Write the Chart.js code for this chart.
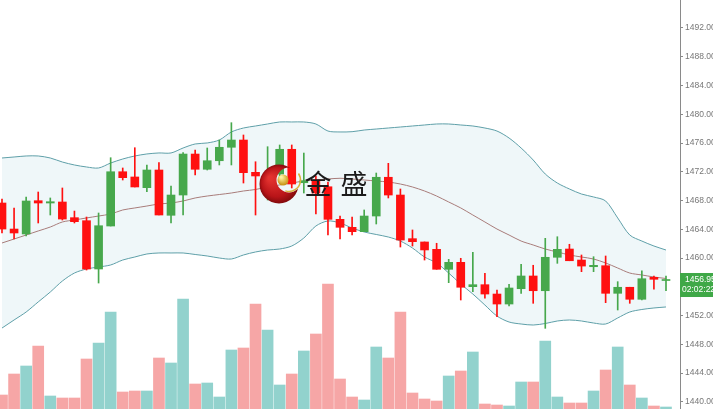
<!DOCTYPE html>
<html>
<head>
<meta charset="utf-8">
<script src="https://cdn.jsdelivr.net/npm/chart.js@4"></script>
<style>
  html, body { margin: 0; padding: 0; background: #fff; overflow: hidden; }
  canvas { display: block; }
</style>
</head>
<body>
<canvas id="myChart" width="713" height="409" style="width:713px;height:409px"></canvas>
<script>
// Bougies (prix)
const opens = [1467.66,1464.04,1463.35,1467.98,1467.66,1467.80,1465.62,1465.20,1458.48,1464.46,
  1472.01,1471.28,1469.79,1472.25,1465.95,1468.77,1474.47,1472.35,1473.54,1475.41,
  1476.42,1471.93,1469.47,1471.69,1475.13,1470.48,1470.86,1469.92,1465.39,1464.28,
  1463.67,1465.85,1471.24,1468.77,1462.70,1462.24,1461.22,1458.44,1459.41,1456.02,
  1456.30,1455.00,1453.61,1455.74,1457.51,1455.46,1460.11,1461.26,1459.73,1458.80,
  1458.94,1455.10,1455.94,1454.27,1457.32,1456.88];
const closes = [1464.04,1463.49,1467.94,1467.66,1467.84,1465.43,1465.06,1458.48,1464.50,1472.01,
  1471.18,1469.89,1472.25,1465.99,1468.77,1474.47,1472.35,1473.54,1475.41,1476.42,
  1471.88,1471.42,1471.14,1475.13,1470.30,1470.76,1469.05,1465.39,1464.28,1463.67,
  1465.85,1471.24,1468.77,1462.51,1462.28,1461.13,1458.44,1459.41,1455.94,1456.30,
  1455.00,1453.61,1455.84,1457.51,1455.46,1460.11,1461.22,1459.63,1458.89,1458.99,
  1455.10,1455.94,1454.27,1457.13,1457.05,1456.95];
const highs = [1468.22,1466.96,1468.50,1469.19,1468.36,1469.75,1466.54,1465.71,1466.27,1473.96,
  1472.53,1475.35,1472.95,1473.27,1470.03,1474.66,1475.03,1475.31,1476.42,1478.83,
  1477.12,1473.40,1475.49,1475.73,1475.73,1474.61,1471.42,1470.58,1465.85,1465.71,
  1466.69,1471.83,1473.18,1469.61,1463.91,1462.24,1462.06,1459.83,1459.97,1460.80,
  1457.88,1455.56,1456.35,1459.14,1459.00,1462.75,1462.97,1461.92,1460.43,1460.19,
  1460.29,1456.72,1455.94,1458.24,1457.51,1457.51];
const lows = [1463.49,1462.65,1463.07,1464.88,1465.99,1465.29,1464.88,1458.34,1456.53,1464.46,
  1470.86,1469.89,1469.23,1465.99,1464.88,1465.99,1471.56,1472.25,1472.95,1472.95,
  1470.44,1465.99,1468.08,1470.86,1469.75,1469.05,1466.13,1463.21,1462.65,1463.21,
  1463.67,1464.74,1468.36,1461.54,1461.68,1459.73,1458.44,1456.58,1454.17,1455.32,
  1454.41,1451.85,1453.34,1455.10,1453.71,1450.23,1459.27,1459.63,1458.11,1458.11,
  1453.80,1452.78,1453.71,1454.17,1455.66,1455.46];

// Bandes de Bollinger
const bandUpper = [1473.92,1474.06,1474.20,1474.20,1473.92,1473.36,1472.95,1472.67,1472.53,1473.22,
  1473.78,1474.20,1474.48,1474.62,1474.62,1475.31,1475.87,1476.01,1476.42,1477.54,
  1478.09,1478.37,1478.65,1478.93,1478.93,1478.93,1478.65,1477.67,1477.54,1477.58,
  1477.81,1477.95,1478.09,1478.23,1478.37,1478.51,1478.65,1478.65,1478.51,1478.37,
  1478.09,1477.67,1476.70,1475.31,1473.64,1471.69,1470.44,1469.61,1468.91,1468.50,
  1467.94,1465.58,1463.21,1462.37,1461.68,1461.12];
const bandMiddle = [1462.10,1462.65,1463.21,1463.77,1464.32,1465.02,1465.30,1465.58,1465.85,1466.13,
  1466.69,1466.97,1467.24,1467.52,1467.66,1467.94,1468.36,1468.63,1468.84,1469.05,
  1469.33,1469.54,1469.89,1470.17,1470.44,1470.72,1470.86,1471.00,1471.10,1471.00,
  1470.86,1470.72,1470.58,1470.30,1469.89,1469.33,1468.63,1467.80,1466.97,1465.99,
  1465.02,1464.04,1463.21,1462.37,1461.82,1461.26,1460.85,1460.43,1460.15,1459.87,
  1459.32,1458.62,1457.92,1457.65,1457.37,1457.16];
const bandLower = [1450.27,1451.39,1452.50,1453.90,1455.28,1456.81,1457.92,1458.48,1458.76,1459.04,
  1459.73,1460.15,1460.57,1460.71,1460.71,1460.71,1460.50,1460.29,1460.01,1459.87,
  1460.43,1460.85,1461.12,1461.26,1461.68,1462.79,1464.46,1465.16,1464.88,1464.18,
  1463.63,1463.28,1462.93,1462.37,1461.40,1460.15,1459.32,1457.92,1456.39,1455.00,
  1453.47,1451.94,1451.11,1450.83,1450.69,1450.90,1451.25,1451.39,1451.25,1450.97,
  1450.83,1451.67,1452.50,1452.85,1453.06,1453.20];

// Volumes (unités relatives)
const volumes = [14,35,43,63,13,11,11,50,66,97,17,18,18,51,46,110,25,26,12,59,
  61,105,79,24,35,58,75,125,30,12,9,62,51,97,16,10,8,33,38,57,
  5,4,3,27,27,68,12,6,6,18,39,62,24,11,3,2];

// Graduations de l'axe des prix
const priceTicks = [1440,1444,1448,1452,1456,1460,1464,1468,1472,1476,1480,1484,1488,1492];
const lastPrice = '1456.95';
const countdown = '02:02:22';

const UP = '#47a84c', DOWN = '#ff1010';
const VOL_UP = '#92d2cd', VOL_DOWN = '#f6a6a6';

const isUp = opens.map((o, i) => closes[i] >= o);
const xy = arr => arr.map((v, i) => ({ x: i, y: v }));

// Logo + étiquette du dernier prix
const overlayPlugin = {
  id: 'overlay',
  afterDatasetsDraw(chart) {
    const c = chart.ctx;
    c.save();
    // croissant rouge
    c.beginPath();
    c.arc(279, 184, 19.5, 0, Math.PI * 2);
    c.clip();
    const g = c.createRadialGradient(270, 178, 2, 279, 184, 20);
    g.addColorStop(0, '#e3322f');
    g.addColorStop(0.7, '#b81418');
    g.addColorStop(1, '#7e0a0c');
    c.beginPath();
    c.rect(250, 150, 60, 70);
    c.arc(289, 180, 12.5, 0, Math.PI * 2, true);
    c.fillStyle = g;
    c.fill('evenodd');
    c.restore();

    c.save();
    c.strokeStyle = '#d9b23a';
    c.lineWidth = 1.5;
    c.beginPath();
    c.arc(289, 180, 11.5, -0.6, 1.9);
    c.stroke();
    const gb = c.createRadialGradient(281, 177, 1, 283, 179, 6);
    gb.addColorStop(0, '#fff2a0');
    gb.addColorStop(1, '#c89414');
    c.fillStyle = gb;
    c.beginPath();
    c.arc(283, 180, 5.5, 0, Math.PI * 2);
    c.fill();

    c.fillStyle = '#1b1b1b';
    c.font = '27px "Noto Sans CJK SC"';
    c.textAlign = 'center';
    c.textBaseline = 'middle';
    c.fillText('金', 318, 184);
    c.fillText('盛', 354, 184);
    c.restore();
  },
  afterDraw(chart) {
    const c = chart.ctx;
    const area = chart.chartArea;
    const y = chart.scales.y.getPixelForValue(closes[closes.length - 1]);
    c.save();
    c.fillStyle = '#3fa847';
    c.fillRect(area.right, y - 7, 713 - area.right, 24);
    c.fillStyle = '#ffffff';
    c.font = '8.5px "Liberation Sans"';
    c.textAlign = 'left';
    c.textBaseline = 'middle';
    c.fillText(lastPrice, area.right + 5, y);
    c.fillText(countdown, area.right + 2, y + 10);
    c.restore();
  }
};

const canvas = document.getElementById('myChart');
const ctx = canvas.getContext('2d');

const myChart = new Chart(ctx, {
  type: 'bar',
  data: {
    datasets: [
      {
        type: 'line', data: xy(bandUpper), borderColor: '#5e9fa8', borderWidth: 1,
        pointRadius: 0, tension: 0.3, fill: '+1', backgroundColor: 'rgba(226,240,244,0.55)', order: 10
      },
      {
        type: 'line', data: xy(bandLower), borderColor: '#5e9fa8', borderWidth: 1,
        pointRadius: 0, tension: 0.3, fill: false, order: 9
      },
      {
        type: 'line', data: xy(bandMiddle), borderColor: '#a87c7a', borderWidth: 1,
        pointRadius: 0, tension: 0.3, fill: false, order: 6
      },
      {
        data: xy(volumes), yAxisID: 'vol', grouped: false, barThickness: 11,
        backgroundColor: isUp.map(u => u ? VOL_UP : VOL_DOWN), order: 8
      },
      {
        data: lows.map((l, i) => ({ x: i, y: [l, highs[i]] })), grouped: false, barThickness: 1,
        backgroundColor: isUp.map(u => u ? UP : DOWN), order: 2
      },
      {
        data: opens.map((o, i) => ({ x: i, y: [o, closes[i]] })), grouped: false, barThickness: 8,
        minBarLength: 1,
        backgroundColor: isUp.map(u => u ? UP : DOWN), order: 1
      }
    ]
  },
  options: {
    responsive: false,
    animation: false,
    layout: { padding: 0 },
    plugins: {
      legend: { display: false },
      tooltip: { enabled: false }
    },
    scales: {
      x: {
        type: 'linear', min: -0.1657, max: 56.16, display: false, offset: false
      },
      y: {
        position: 'right', min: 1439.01, max: 1495.894,
        afterBuildTicks: scale => { scale.ticks = priceTicks.map(v => ({ value: v })); },
        afterFit: scale => {
          scale.width = 33;
          scale.paddingTop = 0;
          scale.paddingBottom = 0;
        },
        grid: { drawOnChartArea: false, drawTicks: true, tickLength: 3, color: '#8a8a8a' },
        border: { display: true, color: '#8a8a8a' },
        ticks: {
          padding: 2, color: '#777', font: { family: 'Liberation Sans', size: 8.5 },
          callback: v => v.toFixed(2)
        }
      },
      vol: { display: false, min: 0, max: 409 }
    }
  },
  plugins: [overlayPlugin]
});
</script>
</body>
</html>
